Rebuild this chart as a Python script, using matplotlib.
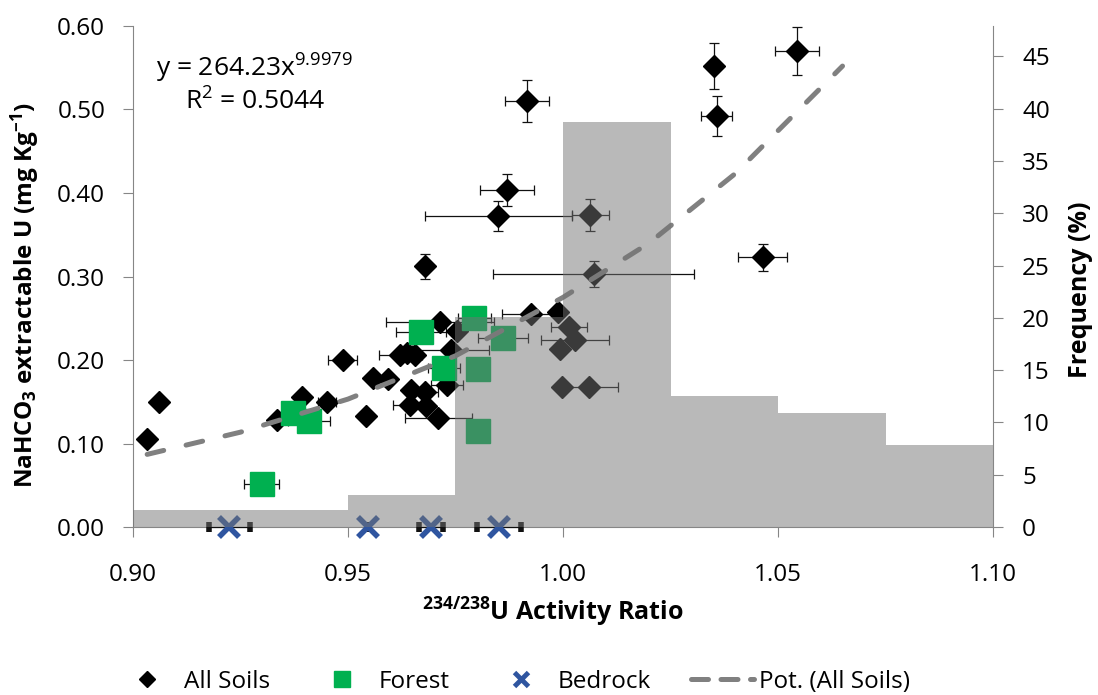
import numpy as np
import matplotlib.pyplot as plt
from matplotlib.lines import Line2D

plt.rcParams['font.family'] = ['Open Sans', 'DejaVu Sans']
plt.rcParams['mathtext.fontset'] = 'custom'
plt.rcParams['mathtext.rm'] = 'Open Sans'
plt.rcParams['mathtext.it'] = 'Open Sans:italic'
plt.rcParams['mathtext.bf'] = 'Open Sans:bold'

#---------------- DATA ----------------

# All soils: 234/238U activity ratio, NaHCO3 extractable U, errors
soil_x = [0.9033, 0.9061, 0.9334, 0.9392, 0.9452, 0.9488, 0.9543, 0.9559, 0.9594,
          0.9621, 0.9637, 0.9656, 0.9647, 0.9680, 0.9645, 0.9682, 0.9710, 0.9731,
          0.9739, 0.9714, 0.9753, 0.9926, 0.9989, 1.0013, 1.0028, 0.9993, 0.9997,
          1.0061, 0.9869, 0.9850, 1.0063, 0.9679, 1.0071, 0.9916, 1.0350, 1.0544,
          1.0358, 1.0464]
soil_y = [0.106, 0.150, 0.128, 0.156, 0.150, 0.200, 0.133, 0.179, 0.177,
          0.206, 0.208, 0.206, 0.164, 0.162, 0.146, 0.145, 0.130, 0.170,
          0.212, 0.245, 0.235, 0.255, 0.257, 0.239, 0.2235, 0.2136, 0.168,
          0.168, 0.4036, 0.373, 0.3737, 0.312, 0.303, 0.510, 0.552, 0.570,
          0.4924, 0.323]
soil_xerr = [0, 0.0008, 0, 0, 0.0021, 0.0034, 0, 0, 0,
             0.0050, 0, 0, 0, 0.0030, 0.0040, 0, 0.0078, 0.0037,
             0.0090, 0.0125, 0, 0.0067, 0, 0.0042, 0.0080, 0, 0.0010,
             0.0066, 0.0063, 0.0170, 0.0043, 0, 0.0233, 0.0051, 0, 0.0051,
             0.0036, 0.0056]
soil_yerr = [0, 0, 0, 0, 0, 0, 0, 0, 0,
             0, 0, 0, 0, 0, 0, 0, 0, 0,
             0, 0.006, 0, 0.006, 0, 0, 0, 0, 0,
             0, 0.0193, 0.018, 0.019, 0.0155, 0.015, 0.025, 0.0275, 0.0287,
             0.024, 0.016]

# Forest soils
forest_x = [0.9299, 0.9371, 0.9409, 0.9670, 0.9724, 0.9794, 0.9860, 0.9803, 0.9802]
forest_y = [0.0514, 0.136, 0.127, 0.2334, 0.190, 0.2506, 0.2267, 0.1888, 0.115]
forest_xerr = [0.0041, 0, 0.0049, 0.0058, 0.0037, 0.0039, 0.0058, 0, 0]

# Bedrock
bed_x = [0.9224, 0.9547, 0.9693, 0.9852]
bed_y = [0, 0, 0, 0]
bed_xerr = [0.0048, 0, 0.0028, 0.0051]

# power trend line (All Soils)
trend_x = [0.9033, 0.925, 0.95, 0.975, 1.00, 1.02, 1.04, 1.065]
trend_y = [0.087, 0.1136, 0.1532, 0.205, 0.275, 0.340, 0.423, 0.552]

# frequency histogram of activity ratio (%)
bin_edges = [0.90, 0.95, 0.975, 1.00, 1.025, 1.05, 1.075, 1.10]
freq = [1.6, 3.1, 20.1, 38.7, 12.5, 10.9, 7.8]

#---------------- PLOT ----------------

fig = plt.figure(figsize=(10.98, 6.95), dpi=100)
ax = fig.add_axes([0.1211, 0.2417, 0.7833, 0.7209])
ax2 = ax.twinx()

axcol = '#868686'

ax.errorbar(soil_x, soil_y, xerr=soil_xerr, yerr=soil_yerr, fmt='D', color='black',
            ms=11, ecolor='#111111', elinewidth=0.9, capsize=3.5, capthick=0.9, zorder=3)
ax.errorbar(forest_x, forest_y, xerr=forest_xerr, fmt='s', color='#00b050',
            ms=17, ecolor='#111111', elinewidth=0.9, capsize=3.5, capthick=0.9, zorder=3)
ax.errorbar(bed_x, bed_y, xerr=bed_xerr, fmt='x', color='#2f55a0', ms=14, mew=4,
            ecolor='#111111', elinewidth=0.9, capsize=3.5, capthick=0.9, zorder=3,
            clip_on=False)
ax.plot(trend_x, trend_y, color='#808080', lw=3.6, dashes=(3.4, 4.6),
        dash_capstyle='round', zorder=4)

widths = np.diff(bin_edges)
ax2.bar(bin_edges[:-1], freq, width=widths, align='edge', color='#747474',
        alpha=0.5, edgecolor='none', zorder=1)

ax.set_xlim(0.90, 1.10)
ax.set_ylim(0, 0.60)
ax2.set_ylim(0, 47.9)
ax.set_xticks([0.90, 0.95, 1.00, 1.05, 1.10])
ax.set_yticks(np.arange(0, 0.61, 0.1))
ax2.set_yticks(np.arange(0, 46, 5))
ax.xaxis.set_major_formatter(plt.FormatStrFormatter('%.2f'))
ax.yaxis.set_major_formatter(plt.FormatStrFormatter('%.2f'))

for s in ['top', 'right']:
    ax.spines[s].set_visible(False)
for s in ['top', 'left', 'bottom']:
    ax2.spines[s].set_visible(False)
ax.spines['left'].set_color(axcol)
ax.spines['bottom'].set_color(axcol)
ax2.spines['right'].set_color(axcol)

ax.tick_params(axis='y', direction='out', length=7, color=axcol, labelsize=17.5, pad=13)
ax.tick_params(axis='x', direction='out', length=7, color=axcol, labelsize=17.5, pad=19)
ax2.tick_params(axis='y', direction='out', length=7, color=axcol, labelsize=17.5, pad=14)

ax.set_ylabel(r'NaHCO$_\mathbf{3}$ extractable U (mg Kg$^\mathbf{-1}$)',
              fontsize=17.5, fontweight='bold')
ax.yaxis.set_label_coords(-0.106, 0.464)
ax2.set_ylabel('Frequency (%)', fontsize=18, fontweight='bold')
ax2.yaxis.set_label_coords(1.087, 0.473)
ax.text(0.488, -0.170, r'$^\mathbf{234/238}$U Activity Ratio', transform=ax.transAxes,
        ha='center', va='center', fontsize=18, fontweight='bold')

ax.text(0.027, 0.916, r'y = 264.23x$^{9.9979}$', transform=ax.transAxes,
        ha='left', va='center', fontsize=19)
ax.text(0.060, 0.849, r'R$^2$ = 0.5044', transform=ax.transAxes,
        ha='left', va='center', fontsize=19)

handles = [
    Line2D([], [], marker='D', color='black', ls='none', ms=8),
    Line2D([], [], marker='s', color='#00b050', ls='none', ms=12),
    Line2D([], [], marker='x', color='#2f55a0', ls='none', ms=10, mew=3.5),
    Line2D([], [], color='#808080', lw=3.6, dashes=(3.4, 2.5), dash_capstyle='round'),
]
labels = ['All Soils', 'Forest', 'Bedrock', 'Pot. (All Soils)']
fig.legend(handles, labels, loc='center', bbox_to_anchor=(0.467, 0.019), ncol=4,
           frameon=False, fontsize=17.5, handlelength=2.6, handletextpad=0.2,
           columnspacing=1.65)

fig.savefig('out.png', dpi=100)
